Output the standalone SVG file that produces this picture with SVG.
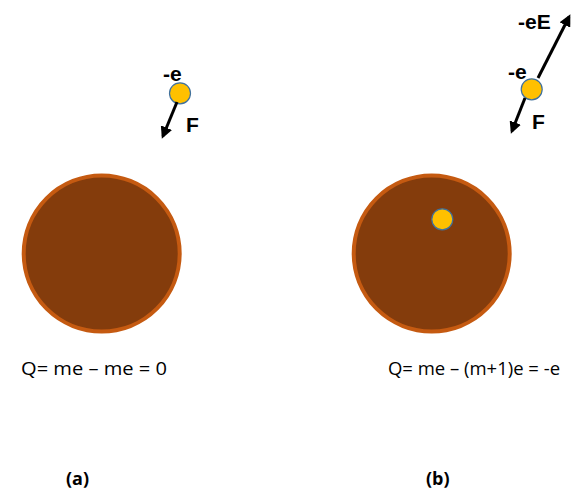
<svg xmlns="http://www.w3.org/2000/svg" width="573" height="498" viewBox="0 0 573 498">
<style>
.ball{fill:#843C0C;stroke:#C55A11;stroke-width:4}
.e{fill:#FFC000;stroke:#41719C;stroke-width:1.2}
.lbl{font-family:"Liberation Sans",Arial,sans-serif;font-weight:bold;font-size:21px;fill:#000}
.eq{font-family:"Open Sans","Liberation Sans",sans-serif;font-size:18px;fill:#000}
.cap{font-family:"Open Sans","Liberation Sans",sans-serif;font-weight:bold;font-size:18px;fill:#000}
.arr{stroke:#000;stroke-width:3;fill:none;marker-end:url(#ah)}
</style>
<defs>
<marker id="ah" markerWidth="4" markerHeight="4" refX="3" refY="2" orient="auto" markerUnits="strokeWidth">
<path d="M0,0 L4,2 L0,4 z" fill="#000"/>
</marker>
</defs>
<g id="sphere-a"><circle class="ball" cx="101.7" cy="253.5" r="78"/></g>
<g id="sphere-b"><circle class="ball" cx="431.7" cy="253.5" r="78"/></g>
<g id="electron-inside-b"><circle class="e" cx="442.3" cy="219.3" r="10.5"/></g>
<g id="electron-a">
<text class="lbl" x="163" y="81">-e</text>
<text class="lbl" x="186" y="131.5">F</text>
<circle class="e" cx="180" cy="93.3" r="10.5"/>
</g>
<g id="electron-b">
<text class="lbl" x="508" y="79">-e</text>
<text class="lbl" x="532" y="128.5">F</text>
<text class="lbl" x="518" y="28.5">-eE</text>
<circle class="e" cx="531.7" cy="89.3" r="10.5"/>
</g>
<g id="connectors">
<line class="arr" x1="177" y1="102" x2="163" y2="136"/>
<line class="arr" x1="525" y1="98" x2="512" y2="131"/>
<line class="arr" x1="538" y1="78" x2="569" y2="17"/>
</g>
<g id="labels">
<text class="eq" x="21" y="375" textLength="146" lengthAdjust="spacingAndGlyphs">Q= me – me = 0</text>
<text class="eq" x="388" y="375" textLength="172" lengthAdjust="spacingAndGlyphs">Q= me – (m+1)e = -e</text>
<text class="cap" x="66" y="485">(a)</text>
<text class="cap" x="426" y="485">(b)</text>
</g>
</svg>
